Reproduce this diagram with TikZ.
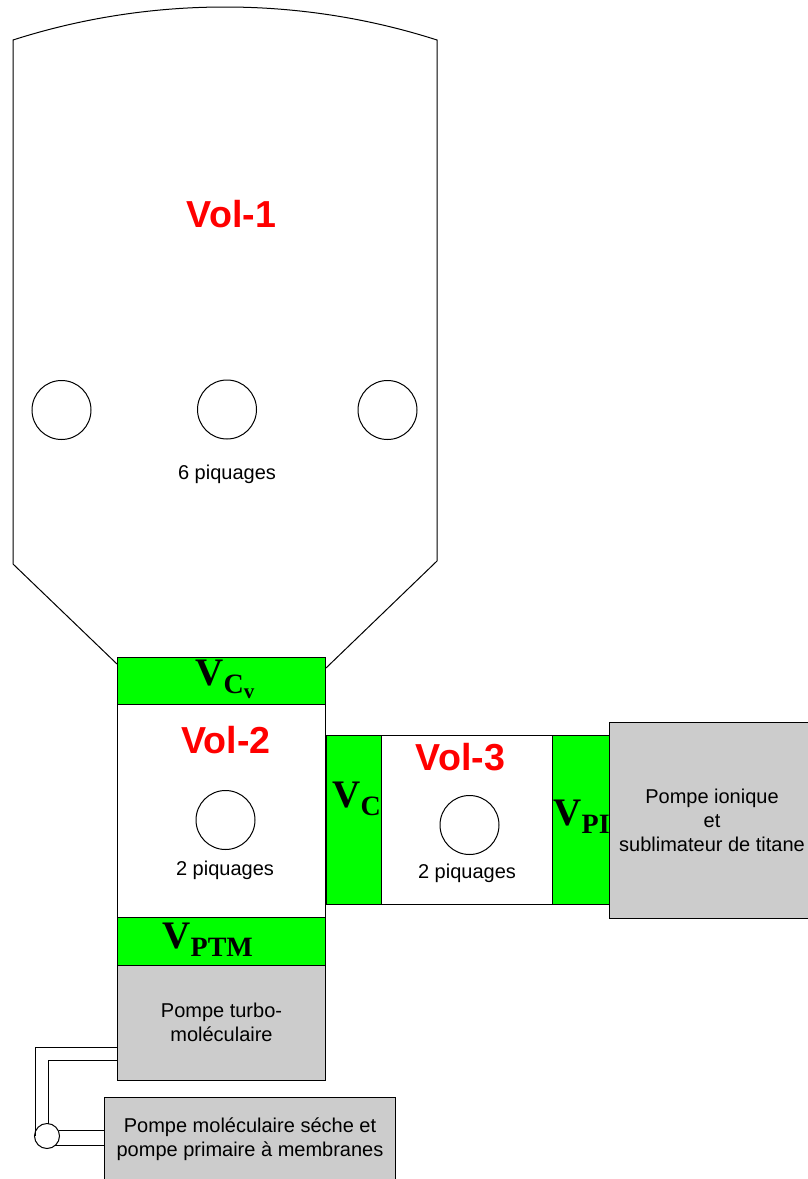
\documentclass[tikz,border=0pt]{standalone}
\usepackage{fontspec}
\setmainfont{Liberation Sans}
\newfontfamily\valvefont{Liberation Serif}
\usepackage{tikz}
\usetikzlibrary{positioning}
\definecolor{valvegreen}{RGB}{0,255,0}
\definecolor{pumpgray}{RGB}{204,204,204}
\newcommand{\valvename}[1]{{\valvefont\bfseries
	\fontsize{19.5}{20}\selectfont V\raisebox{-4pt}{\fontsize{14}{15}\selectfont #1}}}
\tikzset{
	% Boxes
	cell/.style args = {#1 by #2}{
		draw, anchor=north west, inner sep=0pt, outer sep=0pt,
		minimum width=#1*0.5pt, minimum height=#2*0.5pt
	},
	valve/.style = {cell=#1, fill=valvegreen},
	volume/.style = {cell=#1, fill=white},
	pump/.style = {cell=#1, fill=pumpgray},
	% Ports
	port/.style = {draw, circle, fill=white, inner sep=0pt, minimum size=29.5pt},
	pipejoint/.style = {draw, circle, fill=white, inner sep=0pt, minimum size=12.5pt},
	% Texts
	vol label/.style = {text=red, inner sep=0pt, font=\bfseries\fontsize{18.8}{20}\selectfont},
	small label/.style = {inner sep=0pt, align=center, font=\fontsize{10}{12}\selectfont},
	valve label/.style = {inner sep=0pt, anchor=base west},
	vacuum schemes/.style = {x=0.5pt, y=-0.5pt, line width = 0.5pt},
}
\begin{document}
\begin{tikzpicture}[vacuum schemes]
	\useasboundingbox (0,0) rectangle (808,1179);

	% Chamber
	\draw (117,664) -- (13,564) -- (13,40)
		.. controls (150,-4) and (300,-4) .. (437,40)
		-- (437,561) -- (326,668);
	\node[port] (porta) at (61.5,410) {};
	\node[port] (portb) at (227,409.5) {};
	\node[port] (portc) at (387.5,410) {};
	\node[vol label] (volone) at (231.5,214.5) {Vol-1};
	\node[small label] (portsone) at (227,474) {6 piquages};

	% Central column
	\node[valve=208.5 by 47] (valvecv) at (117,657) {};
	\node[volume=208.5 by 213] (voltwo) at (117,704) {};
	\node[valve=208.5 by 48] (valveptm) at (117,917) {};
	\node[pump=208.5 by 115] (turbo) at (117,965) {};
	\node[port] (portd) at (225.5,820) {};
	\node[vol label] (voltwolabel) at (226,740.5) {Vol-2};
	\node[small label] (portstwo) at (225,870) {2 piquages};
	\node[small label] (turbolabel) at (221.5,1022) {Pompe turbo-\\moléculaire};

	% Side branch
	\node[valve=55.5 by 169] (valvec) at (326,735) {};
	\node[volume=171 by 169] (volthree) at (381,735) {};
	\node[valve=57 by 169] (valvepi) at (552,735) {};
	\node[port] (porte) at (469.5,825) {};
	\node[vol label] (volthreelabel) at (460.5,757.5) {Vol-3};
	\node[small label] (portsthree) at (467,873) {2 piquages};

	\node[valve label] (namecv) at (195,685) {\valvename{C\raisebox{-2.5pt}{\fontsize{10.5}{12}\selectfont v}}};
	\node[valve label] (namec) at (332,807) {\valvename{C}};
	\node[valve label] (nameptm) at (162,948) {\valvename{PTM}};
	\node[valve label] (namepi) at (553,825) {\valvename{PI}};

	\node[pump=220 by 196] (ionic) at (609,722) {};
	\node[small label] (ioniclabel) at (712,820) {Pompe ionique\\et\\sublimateur de titane};

	% Dry pumps
	\node[pump=291 by 100] (drypump) at (104,1097) {};
	\node[small label] (drylabel) at (250,1139.5) {Pompe moléculaire séche et\\pompe primaire à membranes};
	\coordinate (turboouta) at (117,1047);
	\coordinate (turbooutb) at (117,1060);
	\coordinate (dryina) at (104,1130);
	\coordinate (dryinb) at (104,1145);
	\node[pipejoint] (joint) at (47,1136) {};
	\draw (turboouta) -- (35,1047) -- (35,1136);
	\draw (turbooutb) -- (48,1060) -- (48,1124);
	\draw (dryina) -- (59,1130);
	\draw (dryinb) -- (55,1145);
\end{tikzpicture}
\end{document}
